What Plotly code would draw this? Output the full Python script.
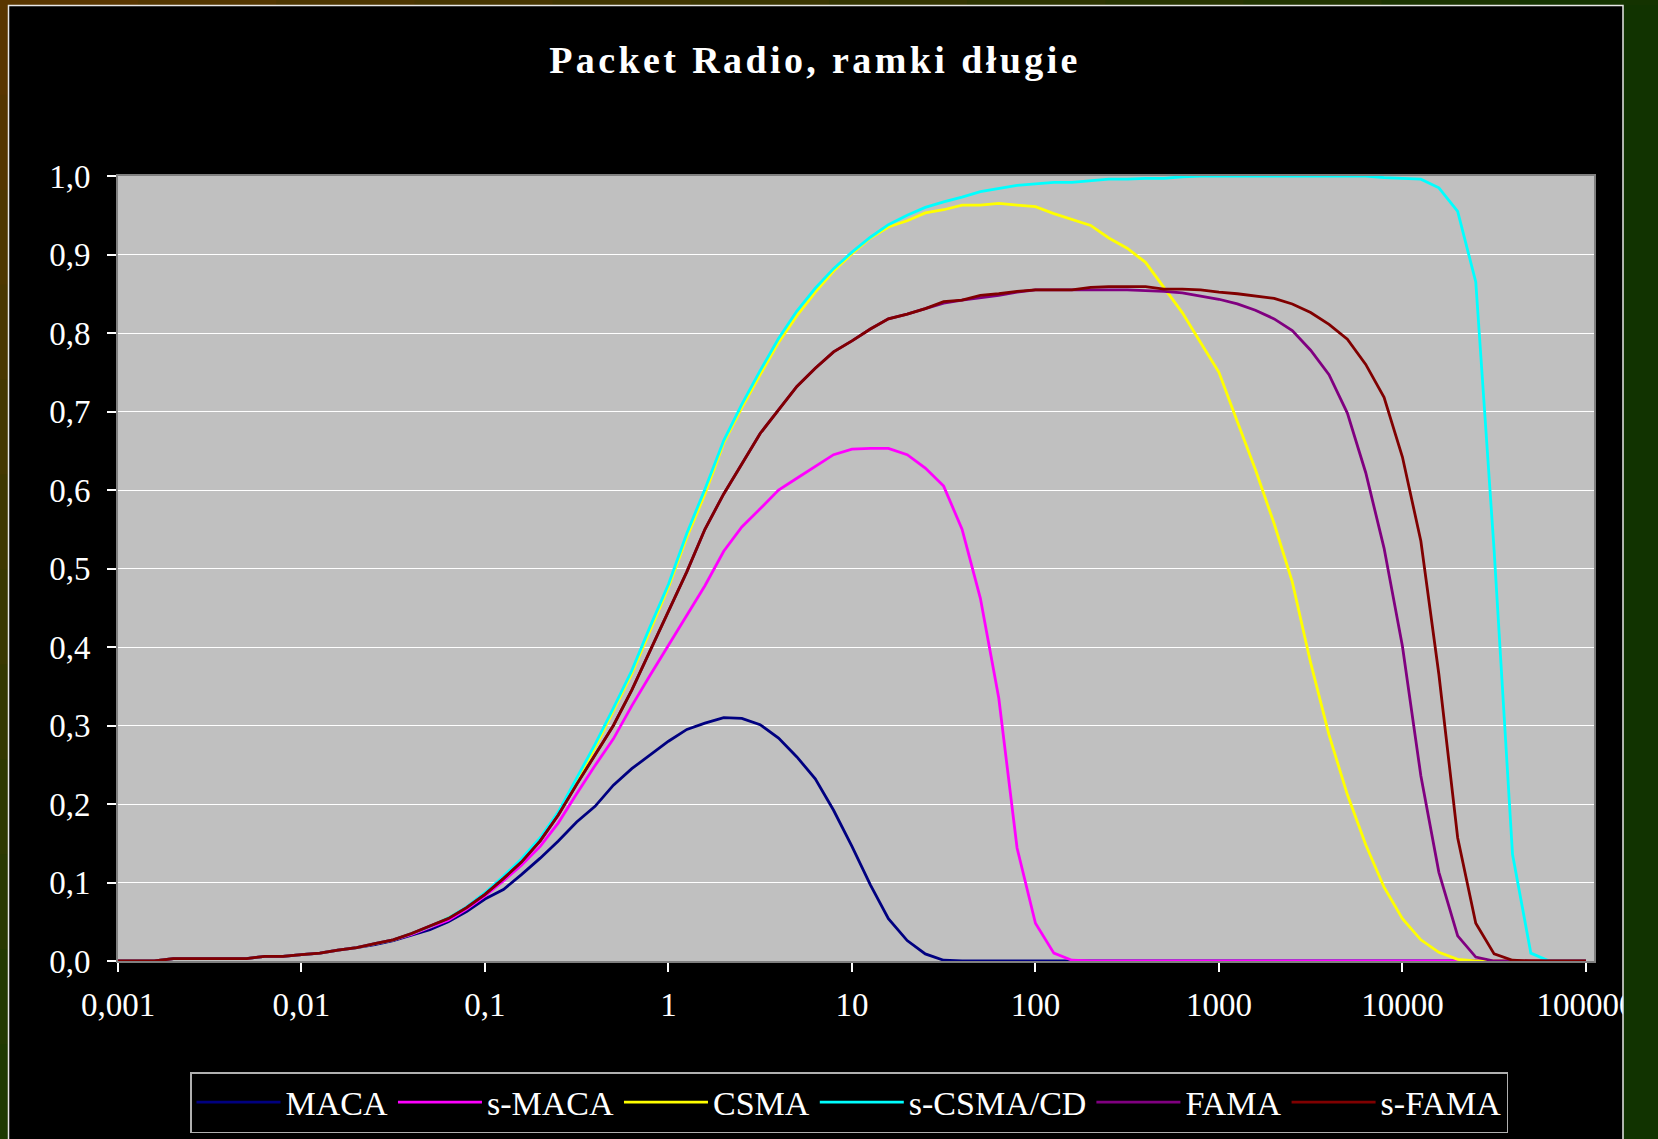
import plotly.graph_objects as go

# ---------------- data ----------------
X = [0.001, 0.00126, 0.00158, 0.002, 0.00251, 0.00316, 0.00398, 0.00501, 0.00631, 0.00794,
     0.01, 0.0126, 0.0158, 0.02, 0.0251, 0.0316, 0.0398, 0.0501, 0.0631, 0.0794,
     0.1, 0.126, 0.158, 0.2, 0.251, 0.316, 0.398, 0.501, 0.631, 0.794,
     1, 1.26, 1.58, 2, 2.51, 3.16, 3.98, 5.01, 6.31, 7.94,
     10, 12.6, 15.8, 20, 25.1, 31.6, 39.8, 50.1, 63.1, 79.4,
     100, 126, 158, 200, 251, 316, 398, 501, 631, 794,
     1000, 1260, 1580, 2000, 2510, 3160, 3980, 5010, 6310, 7940,
     10000, 12600, 15800, 20000, 25100, 31600, 39800, 50100, 63100, 79400,
     100000]

MACA = [0, 0, 0, 0.003, 0.003, 0.003, 0.003, 0.003, 0.006, 0.006,
        0.008, 0.010, 0.014, 0.017, 0.021, 0.026, 0.033, 0.040, 0.050, 0.063,
        0.079, 0.091, 0.110, 0.131, 0.153, 0.177, 0.197, 0.224, 0.245, 0.262,
        0.280, 0.295, 0.303, 0.310, 0.309, 0.301, 0.284, 0.260, 0.232, 0.192,
        0.146, 0.097, 0.054, 0.026, 0.009, 0.001, 0, 0, 0, 0,
        0, 0, 0, 0, 0, 0, 0, 0, 0, 0,
        0, 0, 0, 0, 0, 0, 0, 0, 0, 0,
        0, 0, 0, 0, 0, 0, 0, 0, 0, 0,
        0]

S_MACA = [0, 0, 0, 0.003, 0.003, 0.003, 0.003, 0.003, 0.006, 0.006,
          0.008, 0.010, 0.014, 0.017, 0.022, 0.027, 0.034, 0.043, 0.052, 0.066,
          0.083, 0.102, 0.122, 0.146, 0.176, 0.213, 0.249, 0.283, 0.325, 0.364,
          0.402, 0.440, 0.478, 0.522, 0.553, 0.576, 0.600, 0.615, 0.630, 0.645,
          0.652, 0.653, 0.653, 0.645, 0.628, 0.605, 0.550, 0.462, 0.335, 0.144,
          0.048, 0.010, 0.001, 0, 0, 0, 0, 0, 0, 0,
          0, 0, 0, 0, 0, 0, 0, 0, 0, 0,
          0, 0, 0, 0, 0, 0, 0, 0, 0, 0,
          0]

CSMA = [0, 0, 0, 0.003, 0.003, 0.003, 0.003, 0.003, 0.006, 0.006,
        0.008, 0.010, 0.014, 0.017, 0.022, 0.027, 0.035, 0.044, 0.055, 0.068,
        0.086, 0.106, 0.128, 0.155, 0.188, 0.229, 0.272, 0.318, 0.366, 0.421,
        0.476, 0.540, 0.595, 0.660, 0.705, 0.747, 0.788, 0.822, 0.852, 0.879,
        0.901, 0.921, 0.935, 0.943, 0.953, 0.957, 0.963, 0.963, 0.965, 0.963,
        0.961, 0.952, 0.945, 0.937, 0.921, 0.908, 0.890, 0.858, 0.826, 0.788,
        0.750, 0.687, 0.626, 0.557, 0.483, 0.380, 0.288, 0.212, 0.148, 0.094,
        0.054, 0.027, 0.011, 0.002, 0, 0, 0, 0, 0, 0,
        0]

S_CSMA_CD = [0, 0, 0, 0.003, 0.003, 0.003, 0.003, 0.003, 0.006, 0.006,
             0.008, 0.010, 0.014, 0.017, 0.022, 0.027, 0.035, 0.044, 0.055, 0.069,
             0.087, 0.108, 0.130, 0.157, 0.190, 0.232, 0.276, 0.322, 0.370, 0.426,
             0.480, 0.545, 0.601, 0.663, 0.709, 0.752, 0.793, 0.828, 0.857, 0.882,
             0.903, 0.922, 0.938, 0.950, 0.960, 0.967, 0.973, 0.980, 0.984, 0.988,
             0.990, 0.992, 0.992, 0.994, 0.996, 0.996, 0.997, 0.997, 0.999, 1.0,
             1.0, 1.0, 1.0, 1.0, 1.0, 1.0, 1.0, 1.0, 1.0, 0.998,
             0.997, 0.996, 0.985, 0.955, 0.865, 0.523, 0.136, 0.010, 0, 0,
             0]

FAMA = [0, 0, 0, 0.003, 0.003, 0.003, 0.003, 0.003, 0.006, 0.006,
        0.008, 0.010, 0.014, 0.017, 0.022, 0.027, 0.035, 0.044, 0.054, 0.068,
        0.085, 0.105, 0.126, 0.153, 0.186, 0.225, 0.262, 0.300, 0.345, 0.395,
        0.445, 0.496, 0.550, 0.595, 0.633, 0.672, 0.702, 0.732, 0.755, 0.776,
        0.790, 0.805, 0.818, 0.824, 0.831, 0.838, 0.842, 0.845, 0.848, 0.852,
        0.855, 0.855, 0.855, 0.855, 0.855, 0.855, 0.854, 0.853, 0.851, 0.847,
        0.843, 0.837, 0.829, 0.818, 0.803, 0.778, 0.747, 0.698, 0.622, 0.526,
        0.401, 0.236, 0.113, 0.032, 0.005, 0, 0, 0, 0, 0,
        0]

S_FAMA = [0, 0, 0, 0.003, 0.003, 0.003, 0.003, 0.003, 0.006, 0.006,
          0.008, 0.010, 0.014, 0.017, 0.022, 0.027, 0.035, 0.044, 0.054, 0.068,
          0.085, 0.105, 0.126, 0.153, 0.186, 0.225, 0.262, 0.300, 0.345, 0.395,
          0.445, 0.496, 0.550, 0.595, 0.633, 0.672, 0.702, 0.732, 0.755, 0.776,
          0.790, 0.805, 0.818, 0.824, 0.831, 0.840, 0.842, 0.848, 0.850, 0.853,
          0.855, 0.855, 0.855, 0.858, 0.859, 0.859, 0.859, 0.856, 0.856, 0.855,
          0.852, 0.850, 0.847, 0.844, 0.837, 0.826, 0.811, 0.792, 0.760, 0.718,
          0.642, 0.535, 0.365, 0.157, 0.048, 0.009, 0.001, 0, 0, 0,
          0]

SERIES_NAMES = ["MACA", "s-MACA", "CSMA", "s-CSMA/CD", "FAMA", "s-FAMA"]
SERIES_VALUES = [MACA, S_MACA, CSMA, S_CSMA_CD, FAMA, S_FAMA]
SERIES_COLORS = ["#000080", "#FF00FF", "#FFFF00", "#00FFFF", "#800080", "#800000"]

X_TICKVALS = [0.001, 0.01, 0.1, 1, 10, 100, 1000, 10000, 100000]
X_TICKTEXT = ["0,001", "0,01", "0,1", "1", "10", "100", "1000", "10000", "100000"]
Y_TICKVALS = [0, 0.1, 0.2, 0.3, 0.4, 0.5, 0.6, 0.7, 0.8, 0.9, 1.0]
Y_TICKTEXT = ["0,0", "0,1", "0,2", "0,3", "0,4", "0,5", "0,6", "0,7", "0,8", "0,9", "1,0"]

TITLE = "Packet Radio, ramki długie"

# ---------------- layout geometry ----------------
W, H = 1658, 1139
ML, MR, MT, MB = 118, 64, 176, 178
PW = W - ML - MR
PH = H - MT - MB
FONT = "Liberation Serif"


def px_x(p):
    return (p - ML) / PW


def px_y(p):
    return (H - MB - p) / PH


def mix(c1, c2, t):
    a = [int(c1[i:i + 2], 16) for i in (1, 3, 5)]
    b = [int(c2[i:i + 2], 16) for i in (1, 3, 5)]
    return "#%02x%02x%02x" % tuple(round(a[k] + (b[k] - a[k]) * t) for k in range(3))


fig = go.Figure()
for name, vals, col in zip(SERIES_NAMES, SERIES_VALUES, SERIES_COLORS):
    fig.add_trace(go.Scatter(x=X, y=vals, name=name, mode="lines",
                             line=dict(color=col, width=2.8)))

shapes = []
# decorative outer strips (slide background gradient)
BROWN, GREEN_L, GREEN_R = "#5c3600", "#1b3a02", "#113300"
n = 12
for k in range(n):
    y0, y1 = H * k / n, H * (k + 1) / n
    shapes.append(dict(type="rect", xref="paper", yref="paper", layer="above",
                       x0=px_x(0), x1=px_x(8), y0=px_y(y0), y1=px_y(y1 + 1),
                       fillcolor=mix(BROWN, GREEN_L, (k + 0.5) / n), line=dict(width=0)))
for k in range(n):
    x0, x1 = W * k / n, W * (k + 1) / n
    shapes.append(dict(type="rect", xref="paper", yref="paper", layer="above",
                       x0=px_x(x0), x1=px_x(x1 + 1), y0=px_y(0), y1=px_y(5),
                       fillcolor=mix(BROWN, GREEN_R, (k + 0.5) / n), line=dict(width=0)))
shapes.append(dict(type="rect", xref="paper", yref="paper", layer="above",
                   x0=px_x(1623), x1=px_x(W + 2), y0=px_y(5), y1=px_y(H + 2),
                   fillcolor=GREEN_R, line=dict(width=0)))
# white frame of the chart box
shapes.append(dict(type="rect", xref="paper", yref="paper", layer="above",
                   x0=px_x(8.5), x1=px_x(1623), y0=px_y(5.5), y1=px_y(H + 10),
                   fillcolor="rgba(0,0,0,0)", line=dict(color="#e8e8e8", width=1.5)))

fig.update_layout(
    width=W, height=H,
    margin=dict(l=ML, r=MR, t=MT, b=MB, autoexpand=False),
    paper_bgcolor="#000000",
    plot_bgcolor="#C0C0C0",
    font=dict(family=FONT, color="white", size=33),
    title=dict(text='<span style="letter-spacing:3.4px">' + TITLE + '</span>',
               xref="container", yref="container", x=815 / W, y=1 - 60 / H,
               xanchor="center", yanchor="middle",
               font=dict(family=FONT, size=38, color="white", weight="bold")),
    showlegend=True,
    legend=dict(orientation="h", xref="container", yref="container",
                x=190 / W, y=1 - 1072 / H, xanchor="left", yanchor="top",
                bgcolor="#000000", bordercolor="#b0b0b0", borderwidth=1.5,
                font=dict(family=FONT, size=34, color="white"),
                itemwidth=84, traceorder="normal"),
    xaxis=dict(type="log", range=[-3, 5.044], tickvals=X_TICKVALS, ticktext=X_TICKTEXT,
               showgrid=False, zeroline=False, showline=True, mirror=True,
               linecolor="#808080", linewidth=2, layer="below traces",
               ticks="outside", ticklen=9, tickwidth=1.5, tickcolor="white",
               ticklabelstandoff=4,
               tickfont=dict(family=FONT, size=33, color="white")),
    yaxis=dict(range=[0, 1.0], tickvals=Y_TICKVALS, ticktext=Y_TICKTEXT,
               showgrid=True, gridcolor="#ffffff", gridwidth=1.2, zeroline=False,
               showline=True, mirror=True, linecolor="#808080", linewidth=2,
               layer="below traces",
               ticks="outside", ticklen=9, tickwidth=1.5, tickcolor="white",
               ticklabelstandoff=10,
               tickfont=dict(family=FONT, size=33, color="white")),
    shapes=shapes,
)

fig.write_html("out.html")
